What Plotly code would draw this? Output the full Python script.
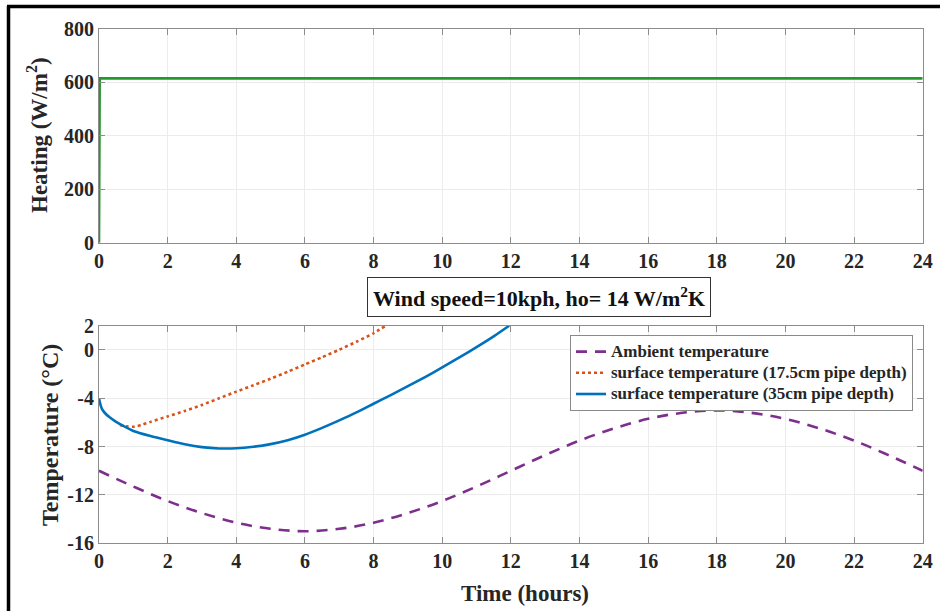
import plotly.graph_objects as go

# Heating input (W/m^2) over time (hours)
heat_t = [0, 0.02, 24]
heat_q = [0, 615, 615]

# Ambient air temperature (degC), hourly
amb_t = list(range(25))
amb_T = [-10.0, -11.3, -12.5, -13.5, -14.3, -14.8, -15.0, -14.8, -14.3, -13.5,
         -12.5, -11.3, -10.0, -8.7, -7.5, -6.5, -5.7, -5.2, -5.0, -5.2,
         -5.7, -6.5, -7.5, -8.7, -10.0]

# Surface temperature, 17.5 cm pipe depth
s175_t = [0.61, 0.8, 1.0, 1.25, 1.5, 2.0, 2.5, 3.0, 3.5, 4.0, 4.5, 5.0, 5.5,
          6.0, 6.5, 7.0, 7.5, 8.0, 8.35]
s175_T = [-6.2, -6.32, -6.35, -6.2, -5.95, -5.5, -5.05, -4.55, -4.0, -3.45,
          -2.92, -2.38, -1.8, -1.2, -0.6, 0.02, 0.68, 1.38, 2.0]

# Surface temperature, 35 cm pipe depth
s35_t = [0, 0.05, 0.1, 0.2, 0.3, 0.5, 0.75, 1.0, 1.5, 2.0, 2.5, 3.0, 3.5, 4.0,
         4.5, 5.0, 5.5, 6.0, 6.5, 7.0, 7.5, 8.0, 8.5, 9.0, 9.5, 10.0, 10.5,
         11.0, 11.5, 11.95]
s35_T = [-4.0, -4.6, -4.95, -5.3, -5.55, -5.95, -6.35, -6.7, -7.12, -7.47,
         -7.8, -8.04, -8.15, -8.14, -8.01, -7.79, -7.47, -7.02, -6.45, -5.83,
         -5.17, -4.45, -3.74, -3.0, -2.24, -1.45, -0.62, 0.23, 1.12, 2.0]

series_names = ["Ambient temperature",
                "surface temperature (17.5cm pipe depth)",
                "surface temperature (35cm pipe depth)"]

x_ticks = list(range(0, 25, 2))
heat_ticks = [0, 200, 400, 600, 800]
temp_ticks = [-16, -12, -8, -4, 0, 2]
temp_labels = ["-16", "-12", "-8", "-4", "0", "2"]

W, H = 940, 611
FONT = "Liberation Serif"
TXT = "#262626"
AXIS_GRAY = "#8c8c8c"
GRID = "#ececec"


def px(x):
    return x / W


def py(y):
    return 1 - y / H


def legend_label(s):
    # larger glyphs inside a compact legend row
    return f'<span style="font-size:17px">{s}</span>'


fig = go.Figure()

fig.add_trace(go.Scatter(x=heat_t, y=heat_q, mode="lines",
                         line=dict(color="#23992b", width=2.6),
                         showlegend=False, xaxis="x", yaxis="y"))

fig.add_trace(go.Scatter(x=amb_t, y=amb_T, mode="lines", name=legend_label(series_names[0]),
                         line=dict(color="#7E2F8E", width=2.6, dash="11px,8px", shape="spline"),
                         xaxis="x2", yaxis="y2"))
fig.add_trace(go.Scatter(x=s175_t, y=s175_T, mode="lines",
                         name=legend_label(series_names[1]),
                         line=dict(color="#D95319", width=2.6, dash="dot", shape="spline",
                                   smoothing=0.6),
                         xaxis="x2", yaxis="y2"))
fig.add_trace(go.Scatter(x=s35_t, y=s35_T, mode="lines",
                         name=legend_label(series_names[2]),
                         line=dict(color="#0072BD", width=2.6, shape="spline", smoothing=0.6),
                         xaxis="x2", yaxis="y2"))

tick_font = dict(family=FONT, size=20, color=TXT, weight="bold")
xdom = [px(99), px(922.7)]
common_x = dict(range=[0, 24], tickvals=x_ticks, domain=xdom, showgrid=True,
                gridcolor=GRID, gridwidth=1, zeroline=False, showline=True,
                linecolor=AXIS_GRAY, linewidth=1, mirror="ticks", ticks="inside",
                ticklen=6, tickcolor=AXIS_GRAY, automargin=False, tickfont=tick_font)
common_y = dict(showgrid=True, gridcolor=GRID, gridwidth=1, zeroline=False,
                showline=True, linecolor=AXIS_GRAY, linewidth=1, mirror="ticks",
                ticks="inside", ticklen=6, tickcolor=AXIS_GRAY, automargin=False,
                tickfont=tick_font)

fig.update_layout(
    width=W, height=H,
    margin=dict(l=0, r=0, t=0, b=0, pad=0, autoexpand=False),
    paper_bgcolor="white", plot_bgcolor="white",
    font=dict(family=FONT, size=19, color=TXT),
    xaxis=dict(anchor="y", **common_x),
    yaxis=dict(anchor="x", range=[0, 800], tickvals=heat_ticks,
               domain=[py(242.7), py(29)], **common_y),
    xaxis2=dict(anchor="y2", **common_x),
    yaxis2=dict(anchor="x2", range=[-16, 2], tickvals=temp_ticks, ticktext=temp_labels,
                domain=[py(543.3), py(325.8)], **common_y),
    legend=dict(x=px(570), y=py(335), xanchor="left", yanchor="top",
                bgcolor="white", bordercolor="#8a8a8a", borderwidth=1,
                font=dict(family=FONT, size=14, color=TXT, weight="bold"),
                itemwidth=30, tracegroupgap=0),
    showlegend=True,
)

# Axis titles
fig.add_annotation(text="Heating (W/m<sup>2</sup>)", textangle=-90,
                   x=px(37), y=py(135), xref="paper", yref="paper",
                   xanchor="center", yanchor="middle", showarrow=False,
                   font=dict(family=FONT, size=23, color=TXT, weight="bold"))
fig.add_annotation(text="Temperature (°C)", textangle=-90,
                   x=px(50), y=py(435), xref="paper", yref="paper",
                   xanchor="center", yanchor="middle", showarrow=False,
                   font=dict(family=FONT, size=24, color=TXT, weight="bold"))
fig.add_annotation(text="Time (hours)",
                   x=px(525), y=py(593), xref="paper", yref="paper",
                   xanchor="center", yanchor="middle", showarrow=False,
                   font=dict(family=FONT, size=23, color=TXT, weight="bold"))

# Operating-condition label
fig.add_annotation(text="Wind speed=10kph, ho= 14 W/m<sup>2</sup>K",
                   x=px(538.5), y=py(297), xref="paper", yref="paper",
                   xanchor="center", yanchor="middle",
                   showarrow=False, bgcolor="white", bordercolor="#333333",
                   borderwidth=1, borderpad=5,
                   font=dict(family=FONT, size=22, color="#111111", weight="bold"))

# Figure frame (left and top edges)
fig.add_shape(type="line", xref="paper", yref="paper",
              x0=px(8.5), x1=px(8.5), y0=0, y1=py(6), line=dict(color="black", width=3.5))
fig.add_shape(type="line", xref="paper", yref="paper",
              x0=px(7), x1=1, y0=py(6.5), y1=py(6.5), line=dict(color="black", width=3.5))

fig.write_html("out.html")
